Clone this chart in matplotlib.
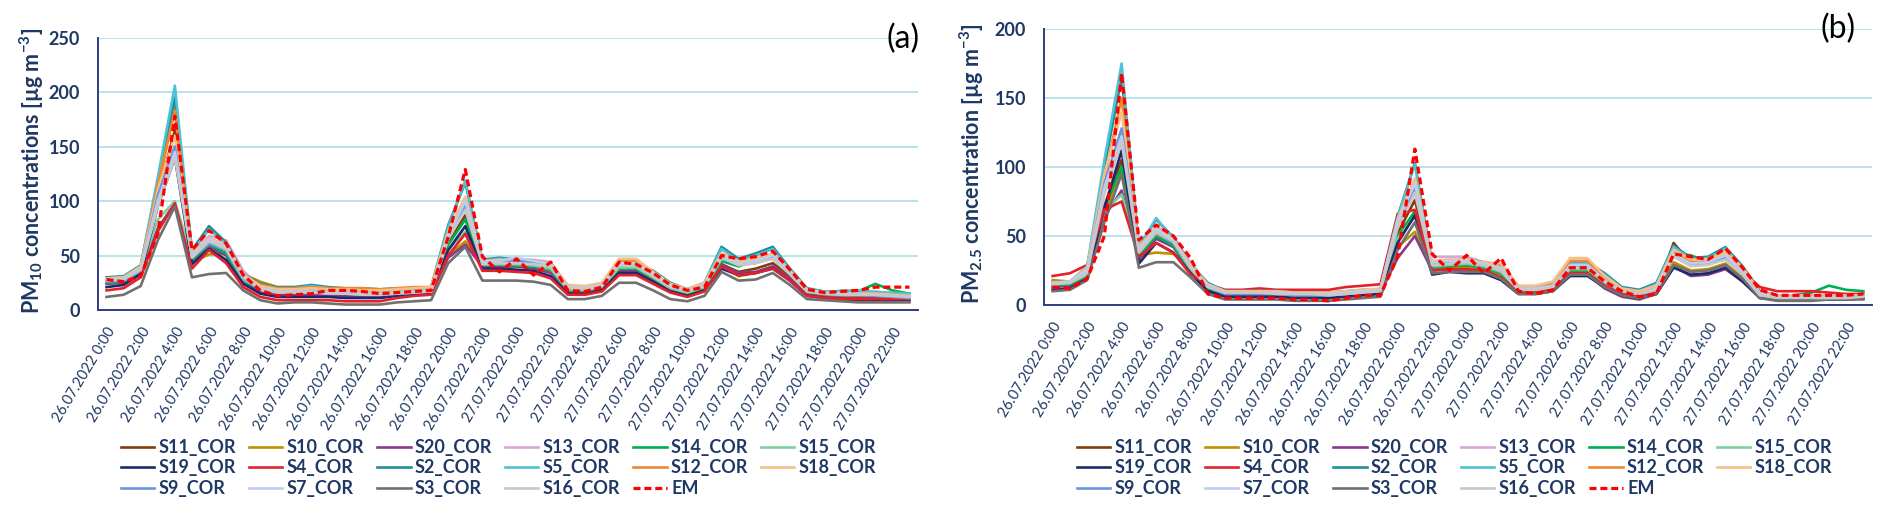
"""PM10 / PM2.5 sensor time series, 26-27.07.2022 (corrected sensors vs. EM reference)."""
import matplotlib
matplotlib.use("Agg")
import matplotlib.pyplot as plt

W, H = 1892, 523
NAVY = "#1F3864"

hours = [f"{d}.07.2022 {h}:00" for d in (26, 27) for h in range(24)]
tick_labels = hours[::2]

names = ["S11_COR", "S10_COR", "S20_COR", "S13_COR", "S14_COR", "S15_COR",
         "S19_COR", "S4_COR", "S2_COR", "S5_COR", "S12_COR", "S18_COR",
         "S9_COR", "S7_COR", "S3_COR", "S16_COR", "EM"]
colors = ["#843C0C", "#BF9000", "#8B3A8B", "#D8A6D8", "#00B050", "#7DCEA0",
          "#1B2A6B", "#E3212D", "#1E8F9E", "#4FC3D6", "#F0862F", "#F7BE86",
          "#6D95DF", "#BDCDF2", "#707070", "#C8C8C8", "#FF0000"]

# ---- (a) PM10 [ug m-3], hourly ----
a_s11 = [25, 26, 35, 105, 165, 44, 58, 52, 28, 21, 18, 18, 18, 17, 17, 16, 16, 17, 18, 19, 62, 87, 40, 41,
         41, 40, 38, 19, 18, 21, 38, 38, 30, 20, 16, 21, 42, 35, 38, 43, 31, 16, 14, 13, 13, 13, 13, 12]
a_s10 = [26, 27, 36, 110, 188, 44, 51, 52, 33, 26, 21, 21, 22, 20, 19, 19, 18, 19, 20, 21, 50, 63, 40, 40,
         40, 40, 36, 18, 18, 20, 37, 37, 29, 19, 15, 20, 41, 31, 34, 40, 29, 15, 13, 12, 12, 12, 12, 12]
a_s20 = [24, 25, 34, 75, 98, 45, 58, 50, 27, 16, 14, 14, 14, 14, 13, 13, 13, 14, 15, 16, 48, 60, 40, 40,
         40, 38, 34, 16, 16, 19, 36, 36, 28, 18, 14, 19, 42, 34, 35, 40, 29, 14, 12, 11, 11, 11, 11, 11]
a_s13 = [28, 29, 38, 100, 148, 50, 68, 64, 36, 21, 18, 18, 19, 17, 17, 16, 16, 17, 18, 19, 66, 95, 47, 47,
         47, 46, 44, 22, 21, 24, 44, 44, 34, 23, 18, 24, 47, 41, 43, 48, 34, 17, 15, 14, 14, 14, 14, 13]
a_s14 = [25, 26, 35, 100, 150, 46, 60, 52, 27, 19, 17, 17, 17, 16, 16, 15, 15, 16, 17, 18, 60, 83, 41, 42,
         41, 40, 37, 18, 18, 20, 38, 38, 29, 20, 15, 20, 45, 40, 46, 49, 34, 17, 15, 16, 17, 24, 18, 15]
a_s15 = [27, 28, 37, 83, 100, 48, 62, 55, 28, 20, 18, 18, 18, 17, 17, 16, 16, 17, 18, 19, 55, 72, 42, 42,
         42, 41, 38, 19, 18, 21, 39, 39, 30, 20, 16, 21, 47, 43, 44, 47, 33, 17, 15, 18, 18, 17, 15, 14]
a_s19 = [21, 23, 33, 95, 140, 42, 56, 46, 24, 15, 12, 12, 12, 12, 11, 11, 11, 13, 14, 15, 55, 77, 38, 38,
         37, 36, 31, 15, 15, 18, 34, 34, 26, 17, 13, 18, 38, 32, 34, 38, 27, 13, 11, 10, 9, 9, 9, 9]
a_s4 = [18, 20, 30, 72, 98, 38, 55, 43, 21, 12, 9, 9, 9, 9, 8, 8, 8, 11, 13, 14, 50, 70, 36, 36,
        35, 34, 29, 14, 14, 17, 32, 32, 24, 16, 12, 17, 40, 32, 34, 38, 27, 13, 11, 10, 10, 10, 10, 10]
a_s2 = [30, 31, 41, 118, 195, 55, 77, 62, 33, 24, 21, 21, 23, 21, 20, 20, 19, 20, 20, 21, 78, 117, 46, 48,
        46, 45, 43, 21, 20, 23, 42, 43, 36, 25, 19, 25, 58, 47, 52, 58, 38, 20, 17, 17, 16, 16, 15, 14]
a_s5 = [29, 30, 40, 122, 206, 53, 74, 60, 32, 23, 20, 20, 22, 20, 19, 19, 18, 19, 20, 21, 76, 119, 45, 47,
        45, 44, 42, 21, 20, 23, 41, 42, 35, 24, 19, 25, 56, 45, 50, 56, 37, 19, 17, 17, 17, 16, 16, 15]
a_s12 = [28, 29, 39, 115, 183, 50, 64, 58, 32, 23, 20, 20, 21, 20, 20, 20, 19, 20, 21, 21, 70, 100, 44, 45,
         45, 44, 42, 22, 21, 24, 45, 45, 34, 23, 18, 24, 50, 44, 46, 51, 35, 18, 16, 15, 15, 15, 14, 13]
a_s18 = [29, 30, 40, 110, 160, 52, 66, 60, 33, 22, 19, 19, 20, 19, 19, 18, 18, 19, 20, 21, 72, 104, 45, 46,
         46, 45, 43, 23, 22, 25, 47, 47, 35, 24, 19, 25, 52, 45, 47, 52, 36, 19, 16, 15, 15, 15, 14, 13]
a_s9 = [26, 27, 36, 105, 150, 48, 61, 55, 29, 19, 16, 16, 17, 15, 15, 14, 14, 15, 16, 17, 68, 96, 43, 44,
        45, 44, 41, 20, 19, 22, 42, 42, 32, 21, 17, 22, 49, 42, 44, 49, 34, 17, 15, 14, 14, 13, 12, 11]
a_s7 = [28, 29, 38, 100, 145, 50, 65, 58, 31, 20, 17, 17, 17, 16, 16, 15, 15, 16, 17, 18, 68, 100, 44, 45,
        48, 45, 42, 21, 20, 23, 43, 43, 33, 22, 17, 23, 50, 43, 45, 50, 35, 18, 16, 15, 15, 14, 13, 12]
a_s3 = [12, 14, 22, 64, 95, 30, 33, 34, 18, 9, 6, 7, 7, 6, 5, 5, 5, 7, 8, 9, 43, 58, 27, 27,
        27, 26, 23, 10, 10, 13, 25, 25, 18, 10, 8, 13, 35, 27, 28, 34, 23, 10, 9, 8, 7, 7, 7, 7]
a_s16 = [27, 28, 37, 95, 140, 48, 63, 56, 30, 19, 16, 16, 16, 15, 15, 14, 14, 15, 16, 17, 65, 92, 42, 43,
         43, 42, 40, 20, 19, 22, 41, 41, 31, 21, 17, 22, 48, 41, 43, 47, 33, 17, 15, 14, 14, 14, 13, 13]
a_em = [28, 26, 31, 70, 178, 55, 73, 61, 32, 18, 13, 14, 15, 18, 18, 17, 15, 16, 17, 18, 67, 129, 49, 35,
        47, 32, 44, 18, 17, 21, 44, 42, 34, 23, 18, 21, 50, 47, 49, 54, 37, 19, 16, 17, 18, 21, 21, 21]

# ---- (b) PM2.5 [ug m-3], hourly ----
b_s11 = [14, 15, 21, 72, 105, 37, 50, 44, 26, 12, 8, 8, 8, 8, 7, 7, 7, 8, 9, 10, 52, 76, 28, 29,
         28, 27, 23, 10, 10, 12, 25, 25, 15, 9, 7, 10, 45, 30, 30, 34, 23, 8, 6, 6, 6, 6, 6, 6]
b_s10 = [18, 17, 22, 65, 98, 36, 38, 37, 30, 15, 10, 10, 10, 10, 9, 9, 8, 8, 9, 10, 42, 53, 26, 27,
         27, 26, 22, 10, 10, 12, 24, 24, 15, 8, 6, 9, 31, 25, 26, 30, 20, 7, 5, 5, 5, 5, 5, 6]
b_s20 = [13, 14, 20, 64, 83, 33, 48, 42, 25, 11, 7, 7, 7, 7, 6, 6, 6, 7, 8, 9, 34, 50, 25, 26,
         25, 25, 20, 9, 9, 11, 22, 22, 12, 6, 4, 8, 28, 21, 22, 26, 17, 6, 4, 4, 4, 4, 4, 5]
b_s13 = [16, 17, 25, 85, 120, 40, 57, 50, 30, 14, 9, 9, 10, 9, 8, 8, 8, 9, 10, 11, 58, 85, 35, 35,
         35, 31, 29, 13, 13, 15, 31, 31, 19, 11, 9, 13, 38, 31, 32, 37, 25, 8, 6, 6, 6, 6, 6, 6]
b_s14 = [14, 15, 21, 70, 100, 36, 50, 43, 25, 12, 8, 8, 8, 8, 7, 7, 7, 8, 9, 9, 50, 68, 27, 28,
         29, 27, 23, 10, 10, 12, 25, 25, 15, 9, 7, 10, 38, 36, 31, 35, 25, 9, 7, 7, 9, 14, 11, 10]
b_s15 = [15, 16, 22, 68, 80, 38, 52, 45, 26, 13, 9, 9, 9, 8, 8, 8, 7, 8, 9, 10, 48, 64, 28, 29,
         30, 28, 24, 11, 11, 13, 26, 26, 16, 9, 7, 10, 36, 30, 30, 35, 24, 8, 6, 6, 6, 6, 6, 6]
b_s19 = [11, 12, 19, 70, 112, 30, 45, 38, 23, 10, 6, 6, 6, 6, 5, 5, 5, 6, 7, 8, 45, 65, 22, 24,
         23, 23, 18, 8, 8, 10, 21, 21, 13, 7, 5, 8, 27, 22, 23, 27, 17, 5, 4, 4, 4, 4, 4, 5]
b_s4 = [21, 23, 29, 69, 75, 35, 45, 38, 22, 15, 11, 11, 12, 11, 11, 11, 11, 13, 14, 15, 66, 69, 25, 26,
        26, 25, 20, 9, 9, 11, 23, 23, 14, 8, 6, 9, 43, 29, 30, 33, 24, 13, 10, 10, 10, 9, 8, 8]
b_s2 = [16, 17, 26, 100, 165, 42, 62, 49, 29, 16, 10, 10, 10, 10, 9, 9, 9, 10, 11, 11, 64, 103, 30, 32,
        33, 31, 29, 13, 13, 16, 31, 31, 23, 13, 11, 16, 43, 34, 35, 42, 28, 10, 7, 7, 7, 7, 7, 7]
b_s5 = [16, 17, 28, 105, 175, 42, 63, 48, 28, 15, 10, 10, 10, 10, 9, 9, 8, 9, 10, 11, 63, 102, 30, 31,
        32, 30, 28, 13, 13, 15, 30, 30, 22, 12, 10, 15, 42, 33, 34, 41, 27, 9, 7, 7, 7, 7, 7, 7]
b_s12 = [15, 16, 24, 92, 150, 40, 54, 47, 28, 14, 9, 9, 9, 9, 8, 8, 8, 9, 10, 11, 60, 90, 31, 32,
         32, 30, 28, 13, 13, 15, 32, 32, 20, 11, 9, 13, 39, 32, 33, 38, 26, 9, 7, 7, 7, 7, 7, 7]
b_s18 = [16, 17, 27, 95, 140, 42, 56, 48, 29, 15, 10, 10, 10, 10, 9, 9, 9, 10, 11, 12, 62, 92, 32, 33,
         33, 31, 30, 14, 14, 17, 34, 34, 21, 12, 10, 14, 40, 33, 33, 38, 27, 9, 7, 7, 7, 7, 7, 7]
b_s9 = [15, 16, 24, 88, 128, 39, 53, 45, 27, 13, 8, 8, 8, 8, 7, 7, 7, 8, 9, 10, 58, 86, 30, 31,
        31, 29, 26, 12, 12, 14, 28, 28, 17, 10, 8, 11, 36, 29, 30, 35, 23, 8, 6, 6, 6, 6, 6, 6]
b_s7 = [16, 17, 25, 85, 122, 40, 55, 47, 28, 14, 9, 9, 9, 9, 8, 8, 8, 9, 10, 11, 60, 88, 31, 32,
        32, 30, 27, 12, 12, 14, 29, 29, 18, 10, 8, 12, 37, 30, 31, 36, 24, 8, 6, 6, 6, 6, 6, 6]
b_s3 = [10, 11, 18, 60, 95, 27, 31, 31, 20, 8, 4, 4, 4, 4, 3, 3, 3, 4, 5, 6, 40, 60, 23, 24,
        24, 24, 19, 8, 8, 10, 22, 22, 13, 7, 5, 8, 29, 24, 25, 29, 19, 5, 3, 3, 3, 4, 4, 4]
b_s16 = [15, 16, 23, 80, 118, 38, 53, 46, 27, 13, 9, 9, 9, 8, 8, 8, 7, 8, 9, 10, 56, 81, 29, 30,
         31, 29, 25, 11, 11, 13, 27, 27, 17, 10, 8, 11, 35, 28, 29, 33, 22, 7, 5, 5, 5, 5, 5, 6]
b_em = [13, 12, 19, 50, 168, 47, 58, 50, 34, 8, 5, 5, 5, 5, 4, 4, 3, 5, 7, 7, 35, 113, 37, 25,
        36, 23, 34, 10, 8, 11, 27, 27, 17, 10, 6, 8, 37, 35, 33, 41, 27, 11, 7, 7, 7, 7, 7, 8]

pm10 = [a_s11, a_s10, a_s20, a_s13, a_s14, a_s15, a_s19, a_s4, a_s2, a_s5,
        a_s12, a_s18, a_s9, a_s7, a_s3, a_s16, a_em]
pm25 = [b_s11, b_s10, b_s20, b_s13, b_s14, b_s15, b_s19, b_s4, b_s2, b_s5,
        b_s12, b_s18, b_s9, b_s7, b_s3, b_s16, b_em]

plt.rcParams["font.family"] = ["Lato", "DejaVu Sans"]
plt.rcParams["mathtext.fontset"] = "custom"
plt.rcParams["mathtext.rm"] = "Lato:bold"
plt.rcParams["mathtext.bf"] = "Lato:bold"
plt.rcParams["mathtext.it"] = "Lato:bold:italic"


def px(x, y):
    return x / W, 1 - y / H


def panel(rect, series, ymax, ystep):
    ax = fig.add_axes(rect)
    x = range(len(hours))
    lines = []
    for name, col, vals in zip(names, colors, series):
        if name == "EM":
            ln, = ax.plot(x, vals, color=col, lw=2.3, ls=(0, (2.2, 1.2)), label=name)
        else:
            ln, = ax.plot(x, vals, color=col, lw=1.9, label=name)
        lines.append(ln)
    ax.set_xlim(-0.5, len(hours) - 0.5)
    ax.set_ylim(0, ymax)
    ax.set_yticks(range(0, ymax + 1, ystep))
    ax.yaxis.grid(True, color="#A6DCE4", lw=1.1)
    ax.set_axisbelow(True)
    for s in ("top", "right"):
        ax.spines[s].set_visible(False)
    for s in ("left", "bottom"):
        ax.spines[s].set_color("#2E3D80")
        ax.spines[s].set_linewidth(1.4)
    ax.set_xticks(range(0, len(hours), 2))
    ax.set_xticklabels(tick_labels, rotation=59, ha="right", va="top",
                       rotation_mode="anchor", fontsize=10.5, color=NAVY)
    ax.tick_params(axis="x", length=0, pad=11)
    ax.tick_params(axis="y", length=0, pad=13, labelsize=13, labelcolor=NAVY)
    for t in ax.get_yticklabels():
        t.set_fontweight("bold")
    return ax, lines


fig = plt.figure(figsize=(W / 100, H / 100), dpi=100)

ax_a, lines_a = panel([98 / W, 1 - 310 / H, 820 / W, (310 - 37.7) / H], pm10, 250, 50)
ax_b, lines_b = panel([1044 / W, 1 - 305 / H, 828 / W, (305 - 29) / H], pm25, 200, 50)

fig.text(*px(32, 171), "PM$_{10}$ concentrations [µg m$^{-3}$]", rotation=90,
         ha="center", va="center", fontsize=15.5, fontweight="bold", color=NAVY)
fig.text(*px(972, 164), "PM$_{2.5}$ concentration [µg m$^{-3}$]", rotation=90,
         ha="center", va="center", fontsize=15.5, fontweight="bold", color=NAVY)
fig.text(*px(920, 24), "(a)", ha="right", va="top", fontsize=23, color="black")
fig.text(*px(1856, 14), "(b)", ha="right", va="top", fontsize=23, color="black")

# Excel fills the legend row by row; matplotlib fills column by column
order = [0, 6, 12, 1, 7, 13, 2, 8, 14, 3, 9, 15, 4, 10, 16, 5, 11]
for lines, x0 in ((lines_a, 121), (lines_b, 1077)):
    fig.legend([lines[i] for i in order], [names[i] for i in order],
               loc="center left", bbox_to_anchor=px(x0, 468), ncol=6, frameon=False,
               handlelength=1.85, handletextpad=0.25, columnspacing=0.7,
               labelspacing=0.2, borderpad=0, borderaxespad=0, labelcolor=NAVY,
               prop={"family": "Lato", "weight": "bold", "size": 13})

fig.savefig("out.png", dpi=100)
